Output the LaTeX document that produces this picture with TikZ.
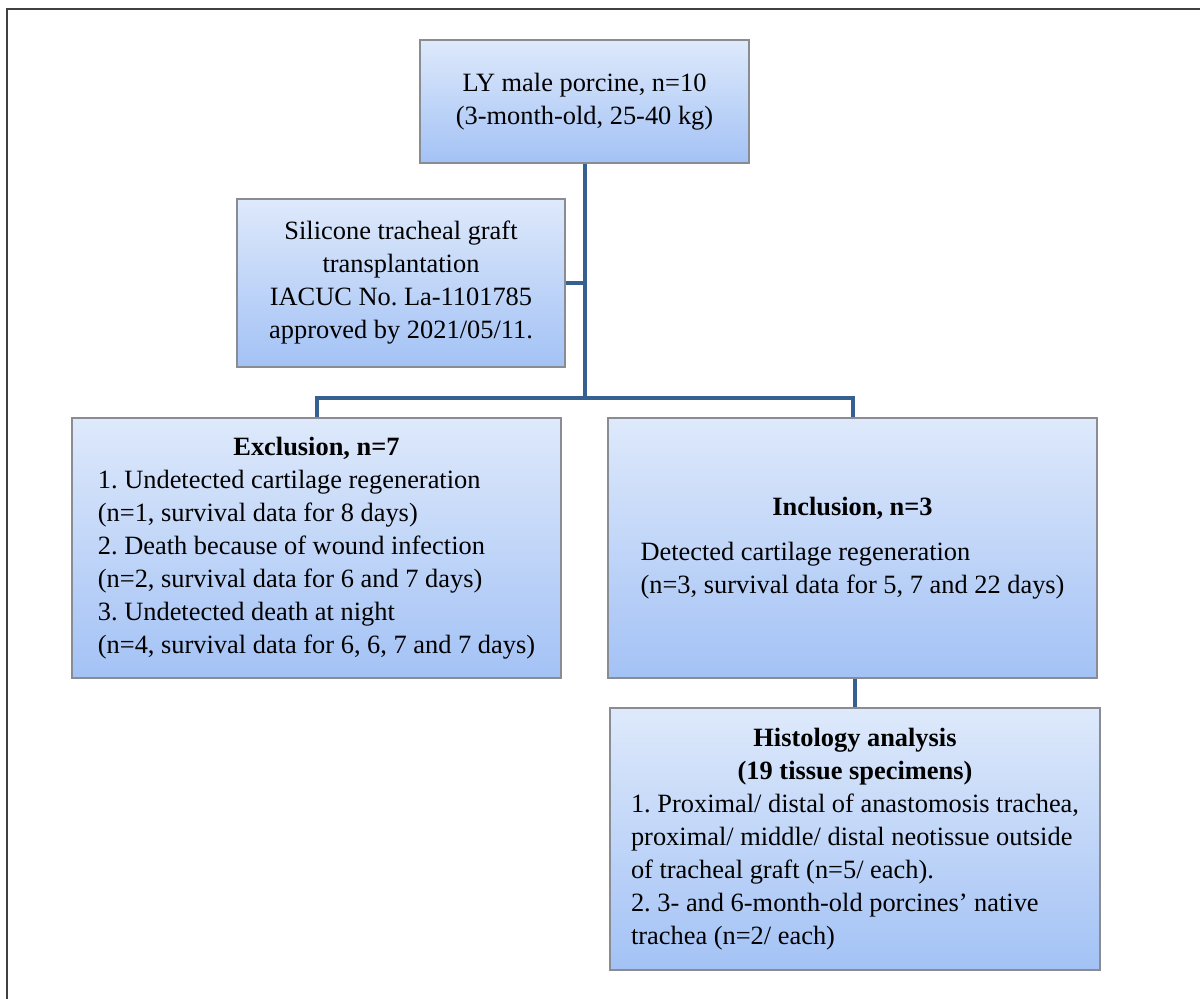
\documentclass[tikz,border=0pt]{standalone}
\usepackage{fontspec}
\setmainfont{Liberation Serif}
\frenchspacing
\usetikzlibrary{shadows}
\definecolor{linkblue}{RGB}{55,96,146}
\definecolor{boxtop}{RGB}{222,233,251}
\definecolor{boxbot}{RGB}{163,194,245}
\definecolor{boxline}{RGB}{138,140,148}
\begin{document}
\begin{tikzpicture}
			[x=0.5pt,y=-0.5pt,
			flowbox/.style={rectangle,draw=boxline,line width=0.9pt,top color=boxtop,bottom color=boxbot,
				drop shadow={shadow xshift=0.7pt,shadow yshift=-0.7pt,opacity=0.25},
				font=\fontsize{13.2}{16.5}\selectfont,inner sep=0pt},
			link/.style={draw=linkblue,line width=2pt}]
			\useasboundingbox (0,0) rectangle (1200,999);
			\draw[line width=1pt,black!75] (7,999)--(7,9)--(1200,9);
			\node[flowbox,name=top,minimum width=164.5pt,minimum height=61.5pt,align=center] at (584.5,101.5)
				{LY male porcine, n=10\\(3-month-old, 25-40 kg)};
			\node[flowbox,name=sil,minimum width=164pt,minimum height=84pt,align=center] at (401,283)
				{Silicone tracheal graft\\transplantation\\IACUC No. La-1101785\\approved by 2021/05/11.};
			\node[flowbox,name=excl,minimum width=244.5pt,minimum height=130pt] at (316.5,548)
				{\begin{tabular}{@{}l@{}}
				\multicolumn{1}{@{}c@{}}{\textbf{Exclusion, n=7}}\\
				1. Undetected cartilage regeneration\\
				(n=1, survival data for 8 days)\\
				2. Death because of wound infection\\
				(n=2, survival data for 6 and 7 days)\\
				3. Undetected death at night\\
				(n=4, survival data for 6, 6, 7 and 7 days)
				\end{tabular}};
			\node[flowbox,name=incl,minimum width=244.5pt,minimum height=130pt] at (852.5,548)
				{\begin{tabular}{@{}l@{}}
				\multicolumn{1}{@{}c@{}}{\textbf{Inclusion, n=3}}\\[6pt]
				Detected cartilage regeneration\\
				(n=3, survival data for 5, 7 and 22 days)
				\end{tabular}};
			\node[flowbox,name=hist,minimum width=245pt,minimum height=131pt] at (855,839)
				{\begin{tabular}{@{}l@{}}
				\multicolumn{1}{@{}c@{}}{\textbf{Histology analysis}}\\
				\multicolumn{1}{@{}c@{}}{\textbf{(19 tissue specimens)}}\\
				1. Proximal/ distal of anastomosis trachea,\\
				proximal/ middle/ distal neotissue outside\\
				of tracheal graft (n=5/ each).\\
				2. 3- and 6-month-old porcines’ native\\
				trachea (n=2/ each)
				\end{tabular}};
			\coordinate (bus) at (585,398);
			\draw[link](top.south)--(top.south|-bus);
			\draw[link](sil.east)--(sil.east-|top.south);
			\draw[link](excl.north)|-(bus)-|(incl.north);
			\draw[link](hist.north|-incl.south)--(hist.north);
		\end{tikzpicture}
\end{document}
